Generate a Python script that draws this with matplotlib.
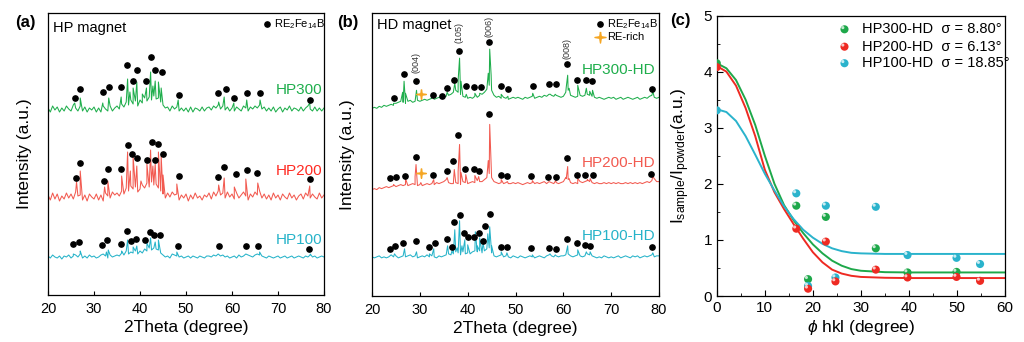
import numpy as np
import matplotlib
matplotlib.use('Agg')
import matplotlib.pyplot as plt
from matplotlib.transforms import ScaledTranslation

plt.rcParams['font.family'] = ['Liberation Sans', 'DejaVu Sans']
plt.rcParams['mathtext.fontset'] = 'custom'
plt.rcParams['mathtext.rm'] = 'Liberation Sans'
plt.rcParams['mathtext.it'] = 'Liberation Sans:italic'

GREEN = '#1fae4c'
RED = '#f25a50'
CYAN = '#26b3c9'

# 2theta sampling of the background traces (0.5 deg)
two_theta = np.arange(20, 80.01, 0.5)

# ---------------- (a) HP magnet ----------------
a300_shift = 186
a300_base = [1, -3, 3, -1, 2, -3, 1, -2, 3, 0,
             -2, 4, 1, -2, 3, -2, 2, -3, 1, -1,
             2, -3, 1, -3, 3, 0, -2, 3, -2, 1,
             3, 0, 5, 2, 7, 4, 9, 5, 8, 3,
             9, 6, 11, 8, 12, 9, 13, 10, 11, 7,
             4, 1, 2, -2, 3, 0, 2, -2, 1, -2,
             1, -3, 2, -3, 1, 0, -2, 2, -2, 1,
             2, -1, 3, 1, 4, 0, 3, -1, 2, -2,
             1, -2, 2, 0, -2, 3, 1, -2, 2, 0,
             3, 1, 4, 0, 2, -2, 1, -2, 2, -3,
             0, 2, -3, 1, -1, 3, -2, 1, 0, -2,
             2, -2, 1, 3, 0, -2, 2, -2, 1, -2,
             1]
a300_pk_x = [25.8, 27.0, 31.9, 33.2, 35.9, 37.3, 37.8, 38.5, 39.3, 40.5, 41.4, 42.3,
             42.8, 43.3, 44.0, 44.6, 48.3, 57.1, 58.3, 60.4, 63.2, 66.1, 76.9]
a300_pk_y = [6, 11, 6, 11, 12, 30, 17, 21, 27, 15, 21, 37, 23, 28, 27, 21, 9, 7, 12, 6, 9, 9, 6]
a300_dot_x = [25.8, 27.0, 31.9, 33.2, 35.9, 37.1, 38.4, 39.4, 41.3, 42.3, 43.3, 44.7, 48.5,
              57.0, 58.6, 60.4, 63.2, 66.1, 77.0]
a300_dot_y = [196.7, 205.7, 203.3, 207.7, 208.3, 230, 214.3, 224.7, 214.3, 238, 224.7, 223.3,
              200, 202.3, 205.7, 197.3, 201.7, 202.3, 195]

a200_shift = 98
a200_base = [2, -3, 4, -2, 3, -4, 1, -2, 4, -1,
             3, -2, 5, 1, 2, -3, 2, -4, 3, 0,
             -2, 3, -3, 2, -4, 4, 1, -1, 5, 2,
             4, 1, 6, 3, 9, 6, 11, 8, 10, 5,
             8, 12, 9, 14, 10, 15, 12, 13, 9, 6,
             3, -1, 4, 0, 5, 2, 3, -3, 2, -1,
             3, -4, 2, -2, 4, -1, 1, -3, 2, 0,
             4, -2, 5, 1, 6, 2, 4, -1, 5, 0,
             3, -2, 4, -1, 2, 5, 1, -3, 3, 0,
             5, 2, 6, -1, 3, -2, 2, -3, 4, -1,
             2, -3, 3, 0, -2, 4, -1, 2, -3, 1,
             3, -2, 4, 1, -1, 3, 0, -2, 4, -1,
             2]
a200_pk_x = [26.2, 27.0, 32.3, 33.0, 36.0, 37.3, 37.9, 38.5, 39.3, 40.2, 41.5, 42.3, 42.8,
             43.3, 44.0, 44.6, 45.0, 48.0, 57.1, 58.3, 60.5, 63.0, 65.6, 76.9]
a200_pk_y = [15, 26, 10, 16, 21, 45, 26, 40, 31, 16, 33, 47, 31, 33, 45, 41, 22, 13, 12, 19,
             10, 18, 14, 11]
a200_dot_x = [26.1, 26.9, 32.1, 33.1, 35.9, 37.3, 38.3, 39.3, 41.5, 42.5, 43.2, 44.0, 45.0,
              48.4, 57.0, 58.3, 60.8, 63.2, 65.5, 76.9]
a200_dot_y = [117.3, 132, 114.3, 125.7, 125.7, 150, 140.7, 136.7, 135, 153.3, 135, 150.7,
              140.7, 119.3, 118.3, 128.3, 121, 124.7, 122, 116]

a100_shift = 38
a100_base = [1, -1, 2, 0, -1, 1, -2, 1, 0, 2,
             -1, 1, 2, 0, 3, -1, 1, -1, 2, 0,
             1, -1, 0, 2, 3, 1, -1, 2, 0, 1,
             2, 1, 4, 2, 6, 3, 5, 4, 6, 3,
             6, 4, 8, 6, 9, 7, 9, 8, 7, 4,
             2, 0, 1, -1, 3, 2, 1, 0, 1, -1,
             0, 1, -1, 1, 0, -1, 1, 0, -1, 1,
             1, 0, 2, 1, 3, 1, 2, 0, 1, -1,
             0, 1, -1, 2, 0, 1, 3, 2, 1, 0,
             2, 3, 2, 1, 0, -1, 1, 0, -1, 0,
             1, -1, 0, 1, -1, 0, 1, -1, 0, 1,
             0, -1, 1, 0, 2, 0, 1, -1, 0, 1,
             0]
a100_pk_x = [25.5, 27.0, 32.7, 33.1, 36.0, 37.3, 38.5, 39.3, 41.5, 42.3, 43.3, 44.0, 48.0,
             57.0, 63.0, 66.0, 77.0]
a100_pk_y = [3, 6, 5, 7, 6, 17, 10, 11, 14, 19, 15, 17, 5, 3, 3, 5, 3]
a100_dot_x = [25.4, 26.7, 31.8, 32.9, 35.9, 37.1, 38.1, 39.2, 41.1, 42.1, 43.1, 44.3, 48.2,
              57.1, 63.0, 65.6, 76.8]
a100_dot_y = [50.7, 53, 49.7, 55, 51, 64.3, 53.7, 55.7, 55, 63, 59.7, 59.7, 49.3, 49.3,
              48.7, 48.7, 46]

# ---------------- (b) HD magnet ----------------
b300_base = [187, 188, 187, 189, 188, 190, 189, 190, 191, 190,
             192, 193, 194, 193, 192, 194, 195, 193, 194, 195,
             194, 195, 196, 195, 196, 197, 196, 197, 198, 197,
             198, 199, 200, 201, 203, 205, 203, 201, 199, 198,
             197, 198, 197, 199, 198, 200, 201, 203, 206, 210,
             205, 200, 198, 199, 197, 198, 197, 196, 197, 198,
             197, 198, 197, 196, 198, 197, 198, 199, 197, 198,
             199, 198, 200, 199, 201, 200, 199, 200, 199, 198,
             199, 203, 205, 200, 199, 198, 199, 200, 199, 200,
             201, 200, 199, 198, 197, 198, 197, 196, 197, 198,
             197, 198, 196, 197, 198, 196, 197, 198, 197, 196,
             197, 198, 196, 197, 198, 197, 199, 200, 198, 197,
             198]
b300_pk_x = [24.5, 26.4, 26.7, 27.0, 29.3, 32.7, 34.6, 35.7, 37.3, 38.0, 38.3, 38.6, 39.7,
             41.5, 42.5, 44.3, 44.6, 44.9, 47.0, 48.4, 53.6, 57.3, 58.3, 60.6, 60.9, 61.2,
             63.0, 64.8, 65.5, 66.1, 78.7]
b300_pk_y = [192, 203, 214, 202, 205, 198, 197, 203, 212, 215, 237, 214, 201, 202, 202, 222,
             246, 220, 201, 199, 202, 201, 201, 208, 220, 207, 210, 207, 204, 205, 204]
b300_dot_x = [24.5, 26.7, 29.2, 32.7, 34.6, 35.7, 37.1, 38.1, 39.7, 41.3, 42.7, 44.5, 47.0,
              48.4, 53.6, 57.0, 58.5, 60.8, 62.8, 64.8, 66.0, 78.5]
b300_dot_y = [197.3, 221.3, 214.3, 200.7, 199.7, 207.7, 215.3, 244.3, 209.7, 208.3, 208.3,
              253.3, 209.3, 206, 209.7, 211.7, 211.3, 231, 215.3, 215.7, 214, 206.3]

b200_base = [106, 107, 106, 108, 107, 108, 109, 108, 109, 110,
             109, 110, 111, 110, 111, 110, 111, 112, 111, 110,
             111, 110, 111, 112, 111, 112, 111, 113, 112, 113,
             114, 116, 113, 112, 112, 113, 112, 111, 114, 113,
             112, 113, 114, 113, 115, 114, 114, 116, 118, 122,
             118, 114, 113, 112, 113, 112, 113, 112, 112, 113,
             112, 113, 112, 111, 112, 113, 112, 113, 112, 113,
             112, 113, 114, 112, 114, 113, 112, 113, 112, 113,
             114, 118, 116, 113, 112, 113, 112, 114, 113, 114,
             115, 114, 113, 112, 113, 112, 112, 113, 112, 113,
             112, 113, 112, 113, 112, 112, 113, 112, 113, 112,
             113, 112, 113, 112, 113, 114, 113, 115, 117, 114,
             114]
b200_pk_x = [24.5, 27.0, 29.0, 29.2, 29.4, 30.2, 32.9, 35.7, 37.2, 38.0, 38.3, 38.6, 39.6,
             41.5, 42.3, 44.3, 44.6, 44.9, 47.0, 48.3, 53.5, 57.0, 58.4, 60.6, 60.9, 61.2,
             63.0, 65.0, 65.6, 78.7]
b200_pk_y = [111, 117, 119, 131, 118, 113, 116, 118, 126, 124, 151, 123, 121, 120, 119, 135,
             171, 132, 116, 114, 115, 114, 115, 117, 129, 117, 117, 116, 117, 119]
b200_dot_x = [23.8, 25.1, 26.9, 29.1, 32.8, 35.6, 36.9, 38.0, 39.4, 41.3, 42.4, 44.5, 46.9,
              48.2, 53.3, 56.8, 58.4, 60.8, 62.8, 64.5, 66.2, 78.4]
b200_dot_y = [117.3, 118.3, 120, 139, 121, 124.7, 134.3, 160, 126.7, 126.7, 124.3, 181, 121,
              119.3, 120, 118.7, 118.7, 138, 120.7, 120.7, 120.7, 122]

b100_base = [39, 38, 39, 40, 38, 39, 38, 39, 41, 39,
             40, 38, 39, 40, 39, 40, 41, 39, 40, 38,
             39, 40, 39, 41, 39, 40, 39, 38, 40, 39,
             40, 41, 42, 41, 42, 44, 43, 41, 44, 42,
             43, 42, 44, 45, 44, 45, 43, 45, 47, 48,
             43, 40, 39, 40, 41, 39, 40, 39, 38, 40,
             39, 38, 40, 39, 38, 39, 40, 39, 38, 39,
             40, 39, 38, 40, 41, 40, 39, 40, 39, 40,
             40, 41, 42, 40, 39, 40, 41, 40, 39, 40,
             42, 41, 40, 39, 38, 39, 38, 40, 39, 38,
             39, 38, 39, 40, 38, 39, 40, 39, 38, 40,
             39, 40, 38, 39, 40, 39, 40, 41, 39, 40,
             40]
b100_pk_x = [24.7, 26.8, 29.3, 32.0, 32.9, 35.8, 36.7, 37.3, 37.8, 38.3, 38.8, 39.4, 40.0,
             41.6, 42.0, 42.5, 43.2, 44.2, 44.6, 45.0, 47.0, 48.2, 53.5, 57.2, 58.3, 60.9,
             63.0, 64.8, 65.6, 78.7]
b100_pk_y = [42, 47, 44, 42, 47, 50, 45, 66, 48, 75, 50, 56, 51, 64, 50, 58, 53, 62, 69, 50,
             44, 43, 41, 42, 41, 50, 46, 44, 44, 43]
b100_dot_x = [23.8, 24.7, 26.5, 29.2, 32.0, 33.1, 35.6, 36.7, 37.1, 38.3, 39.2, 40.1, 41.3,
              42.3, 43.2, 43.7, 44.7, 46.9, 48.2, 53.3, 57.0, 58.4, 60.8, 62.8, 64.5, 65.6,
              78.5]
b100_dot_y = [46.7, 50, 52.7, 55.3, 48.7, 53.3, 56.7, 49, 73.7, 81, 63, 58.3, 59, 62.7, 55.3,
              69.3, 81.7, 49.3, 49, 47.7, 47.7, 47, 56.7, 52.7, 51.3, 50.3, 49.3]

rich_x = [30.2, 30.15]
rich_y = [201.7, 122.7]
hkl_labels = ['(004)', '(105)', '(006)', '(008)']
hkl_x = [29.2, 38.1, 44.5, 60.8]
hkl_y = [232.7, 262.7, 269, 246.7]

# ---------------- (c) orientation ----------------
phi_300 = [0, 16.55, 19.0, 22.7, 33.1, 39.7, 49.9]
ratio_300 = [4.15, 1.61, 0.30, 1.41, 0.85, 0.42, 0.43]
phi_200 = [0, 16.55, 19.0, 22.7, 24.7, 33.1, 39.7, 49.9, 54.8]
ratio_200 = [4.08, 1.20, 0.13, 0.97, 0.26, 0.47, 0.33, 0.34, 0.27]
phi_100 = [0, 16.55, 19.0, 22.7, 24.7, 33.1, 39.7, 49.9, 54.8]
ratio_100 = [3.31, 1.83, 0.18, 1.61, 0.33, 1.59, 0.73, 0.68, 0.57]

fit_phi = [0, 2, 4, 6, 8, 10, 12, 14, 16, 18, 20, 22, 24, 26, 28, 30, 35, 40, 50, 60]
fit_300 = [4.15, 4.06, 3.85, 3.5, 3.05, 2.5, 2.0, 1.62, 1.35, 1.12, 0.92, 0.76, 0.63, 0.54,
           0.48, 0.45, 0.425, 0.42, 0.42, 0.42]
fit_200 = [4.1, 4.0, 3.75, 3.35, 2.85, 2.25, 1.85, 1.55, 1.28, 1.02, 0.78, 0.6, 0.47, 0.4,
           0.36, 0.34, 0.325, 0.32, 0.32, 0.32]
fit_100 = [3.33, 3.28, 3.12, 2.85, 2.52, 2.18, 1.88, 1.6, 1.37, 1.18, 1.04, 0.93, 0.85, 0.8,
           0.77, 0.76, 0.75, 0.75, 0.75, 0.75]
sigma_text = ['HP300-HD  \u03c3 = 8.80\u00b0', 'HP200-HD  \u03c3 = 6.13\u00b0',
              'HP100-HD  \u03c3 = 18.85\u00b0']

# thin four-point sparkle used for the RE-rich marker
sparkle = [(0, 1), (0.14, 0.14), (1, 0), (0.14, -0.14), (0, -1), (-0.14, -0.14),
           (-1, 0), (-0.14, 0.14), (0, 1)]
STAR = '#f5a623'


def spectrum(ax, base, pk_x, pk_y, shift, color):
    x = np.concatenate([two_theta, pk_x])
    y = np.concatenate([base, pk_y]) + shift
    o = np.argsort(x, kind='stable')
    ax.plot(x[o], y[o], color=color, lw=0.75)


def xrd_axes(ax, lab_x):
    ax.set_xlim(20, 80)
    ax.set_ylim(0, 282)
    ax.set_yticks([])
    ax.set_xticks(range(20, 81, 10))
    ax.tick_params(axis='x', direction='in', length=3, labelsize=10.5, pad=5)
    ax.set_xlabel('2Theta (degree)', fontsize=12.5, labelpad=3)
    ax.set_ylabel('Intensity (a.u.)', fontsize=12.5)
    ax.yaxis.set_label_coords(lab_x, 0.5)
    for s in ax.spines.values():
        s.set_linewidth(0.9)


fig = plt.figure(figsize=(10.24, 3.42), dpi=100)

# (a)
ax1 = fig.add_axes([0.0469, 0.1374, 0.2695, 0.8246])
spectrum(ax1, a300_base, a300_pk_x, a300_pk_y, a300_shift, GREEN)
spectrum(ax1, a200_base, a200_pk_x, a200_pk_y, a200_shift, RED)
spectrum(ax1, a100_base, a100_pk_x, a100_pk_y, a100_shift, CYAN)
for dx, dy in [(a300_dot_x, a300_dot_y), (a200_dot_x, a200_dot_y), (a100_dot_x, a100_dot_y)]:
    ax1.plot(dx, dy, 'o', color='black', ms=3.8, ls='none')
ax1.text(79.7, 205, 'HP300', ha='right', va='center', color=GREEN, fontsize=11)
ax1.text(79.7, 124, 'HP200', ha='right', va='center', color='#ff2a22', fontsize=11)
ax1.text(79.7, 55, 'HP100', ha='right', va='center', color=CYAN, fontsize=11)
ax1.text(0.018, 0.948, 'HP magnet', transform=ax1.transAxes, fontsize=10.5, va='center')
ax1.plot([0.792], [0.961], 'o', color='black', ms=3.8, transform=ax1.transAxes)
ax1.text(0.818, 0.961, r'RE$_2$Fe$_{14}$B', transform=ax1.transAxes, fontsize=8, va='center')
xrd_axes(ax1, -0.058)

# (b)
ax2 = fig.add_axes([0.3633, 0.1345, 0.2803, 0.8275])
spectrum(ax2, b300_base, b300_pk_x, b300_pk_y, 0, GREEN)
spectrum(ax2, b200_base, b200_pk_x, b200_pk_y, 0, RED)
spectrum(ax2, b100_base, b100_pk_x, b100_pk_y, 0, CYAN)
for dx, dy in [(b300_dot_x, b300_dot_y), (b200_dot_x, b200_dot_y), (b100_dot_x, b100_dot_y)]:
    ax2.plot(dx, dy, 'o', color='black', ms=3.8, ls='none')
ax2.plot(rich_x, rich_y, marker=sparkle, color=STAR, ms=7, ls='none')
for lab, hx, hy in zip(hkl_labels, hkl_x, hkl_y):
    ax2.text(hx, hy, lab, rotation=90, ha='center', va='center', fontsize=6.5, color='#333333')
ax2.text(79.2, 225, 'HP300-HD', ha='right', va='center', color=GREEN, fontsize=11)
ax2.text(79.2, 132.7, 'HP200-HD', ha='right', va='center', color=RED, fontsize=11)
ax2.text(79.2, 59.3, 'HP100-HD', ha='right', va='center', color=CYAN, fontsize=11)
ax2.text(0.016, 0.957, 'HD magnet', transform=ax2.transAxes, fontsize=10.5, va='center')
ax2.plot([0.794], [0.961], 'o', color='black', ms=3.8, transform=ax2.transAxes)
ax2.text(0.818, 0.961, r'RE$_2$Fe$_{14}$B', transform=ax2.transAxes, fontsize=8, va='center')
ax2.plot([0.794], [0.916], marker=sparkle, color=STAR, ms=8, transform=ax2.transAxes)
ax2.text(0.818, 0.916, 'RE-rich', transform=ax2.transAxes, fontsize=8, va='center')
xrd_axes(ax2, -0.059)

# (c)
ax3 = fig.add_axes([0.700, 0.1345, 0.2815, 0.820])
C_GREEN, C_RED, C_CYAN = '#1ea84a', '#ee2a22', '#2ab3cc'
ax3.plot(fit_phi, fit_300, color=C_GREEN, lw=1.4)
ax3.plot(fit_phi, fit_200, color=C_RED, lw=1.4)
ax3.plot(fit_phi, fit_100, color=C_CYAN, lw=1.4)
shine = ScaledTranslation(-1.2 / 72, 1.2 / 72, fig.dpi_scale_trans)
for px, py, col in [(phi_300, ratio_300, C_GREEN), (phi_100, ratio_100, C_CYAN),
                    (phi_200, ratio_200, C_RED)]:
    ax3.scatter(px, py, s=34, color=col, edgecolors='none', zorder=3)
    ax3.scatter(px, py, s=5, color='white', alpha=0.75, edgecolors='none', zorder=4,
                transform=ax3.transData + shine)
leg_y = [0.951, 0.889, 0.830]
for col, ly, txt in zip([C_GREEN, C_RED, C_CYAN], leg_y, sigma_text):
    ax3.scatter([0.443], [ly], s=34, color=col, edgecolors='none', transform=ax3.transAxes)
    ax3.scatter([0.443], [ly], s=5, color='white', alpha=0.75, edgecolors='none',
                transform=ax3.transAxes + shine)
    ax3.text(0.505, ly, txt, transform=ax3.transAxes, fontsize=10.5, va='center')
ax3.set_xlim(0, 60)
ax3.set_ylim(0, 5)
ax3.set_xticks(range(0, 61, 10))
ax3.set_yticks(range(0, 6))
ax3.set_xticks(range(5, 60, 10), minor=True)
ax3.set_yticks(np.arange(0.5, 5, 1), minor=True)
ax3.tick_params(which='both', direction='in', labelsize=11)
ax3.tick_params(which='major', length=4)
ax3.tick_params(which='minor', length=2.5)
ax3.set_xlabel(r'$\phi$ hkl (degree)', fontsize=12.5, labelpad=2)
ax3.set_ylabel(r'I$_{\rm sample}$/I$_{\rm powder}$(a.u.)', fontsize=12.5, labelpad=8)
for s in ax3.spines.values():
    s.set_linewidth(0.9)

fig.text(15 / 1024, 1 - 22 / 342, '(a)', fontsize=12, weight='bold', va='center')
fig.text(337 / 1024, 1 - 22 / 342, '(b)', fontsize=12, weight='bold', va='center')
fig.text(670 / 1024, 1 - 20 / 342, '(c)', fontsize=12, weight='bold', va='center')

fig.savefig('out.png', dpi=100)
